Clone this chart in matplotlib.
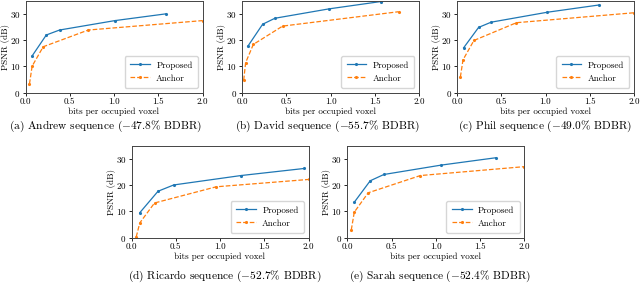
import matplotlib
matplotlib.use("Agg")
import matplotlib.pyplot as plt

plt.rcParams['font.family'] = 'serif'
plt.rcParams['font.serif'] = ['cmr10', 'DejaVu Serif']
plt.rcParams['mathtext.fontset'] = 'cm'
plt.rcParams['axes.formatter.use_mathtext'] = True
plt.rcParams['axes.unicode_minus'] = False

titles = ["(a) Andrew sequence ($-$47.8% BDBR)",
          "(b) David sequence ($-$55.7% BDBR)",
          "(c) Phil sequence ($-$49.0% BDBR)",
          "(d) Ricardo sequence ($-$52.7% BDBR)",
          "(e) Sarah sequence ($-$52.4% BDBR)"]

prop_x = [[0.075, 0.235, 0.385, 1.01, 1.59],
          [0.064, 0.233, 0.372, 0.985, 1.57],
          [0.075, 0.244, 0.386, 1.02, 1.61],
          [0.094, 0.30, 0.477, 1.237, 1.95],
          [0.079, 0.259, 0.413, 1.062, 1.677]]
prop_y = [[14.0, 22.0, 23.9, 27.5, 30.1],
          [17.6, 26.1, 28.4, 32.0, 34.8],
          [17.1, 24.9, 26.9, 30.7, 33.5],
          [9.5, 17.7, 20.1, 23.7, 26.4],
          [13.5, 21.7, 24.1, 27.7, 30.5]]
anc_x = [[0.045, 0.075, 0.20, 0.71, 2.0],
         [0.019, 0.041, 0.128, 0.459, 1.77],
         [0.038, 0.068, 0.191, 0.672, 2.0],
         [0.053, 0.094, 0.26, 0.958, 2.0],
         [0.045, 0.079, 0.236, 0.826, 2.0]]
anc_y = [[3.3, 10.1, 17.5, 23.9, 27.5],
         [4.7, 11.4, 18.4, 25.4, 30.9],
         [5.9, 12.5, 19.9, 26.7, 30.5],
         [0.2, 5.6, 13.2, 19.4, 22.2],
         [2.9, 9.7, 17.1, 23.7, 27.1]]

W, H = 640, 284
fig = plt.figure(figsize=(6.4, 2.84), dpi=100)
# (left px, top px) of each axes
pos = [(25.5, 1), (242, 1), (457, 1), (131.5, 146), (347.3, 146)]
cap = [(106, 126), (327, 126), (545, 126), (225, 276), (440, 276)]
aw, ah = 177, 91.5

for i in range(5):
    l, t = pos[i]
    ax = fig.add_axes([l / W, 1 - (t + ah) / H, aw / W, ah / H])
    ax.plot(prop_x[i], prop_y[i], '.-', color='#1f77b4', lw=0.9, ms=2.5, label='Proposed')
    ax.plot(anc_x[i], anc_y[i], '.--', color='#ff7f0e', lw=0.9, ms=2.5, label='Anchor')
    ax.set_xlim(0, 2.0)
    ax.set_ylim(0, 35)
    ax.set_xticks([0, 0.5, 1.0, 1.5, 2.0])
    ax.set_xticklabels(['0.0', '0.5', '1.0', '1.5', '2.0'])
    ax.set_yticks([0, 10, 20, 30])
    ax.tick_params(labelsize=6.5, length=2.5, width=0.6, pad=1.2)
    ax.set_xlabel('bits per occupied voxel', fontsize=6.5, labelpad=1)
    ax.set_ylabel('PSNR (dB)', fontsize=6.5)
    ax.yaxis.set_label_coords(-0.09, 0.5)
    for s in ax.spines.values():
        s.set_linewidth(0.7)
        s.set_color('#444444')
    ax.legend(loc='lower right', fontsize=6.5, handlelength=2.2, borderpad=0.6,
              labelspacing=0.5, handletextpad=0.7, framealpha=0.8)
    cx, cy = cap[i]
    fig.text(cx / W, 1 - cy / H, titles[i], ha='center', va='center', fontsize=8.2)

fig.savefig('out.png', dpi=100)
